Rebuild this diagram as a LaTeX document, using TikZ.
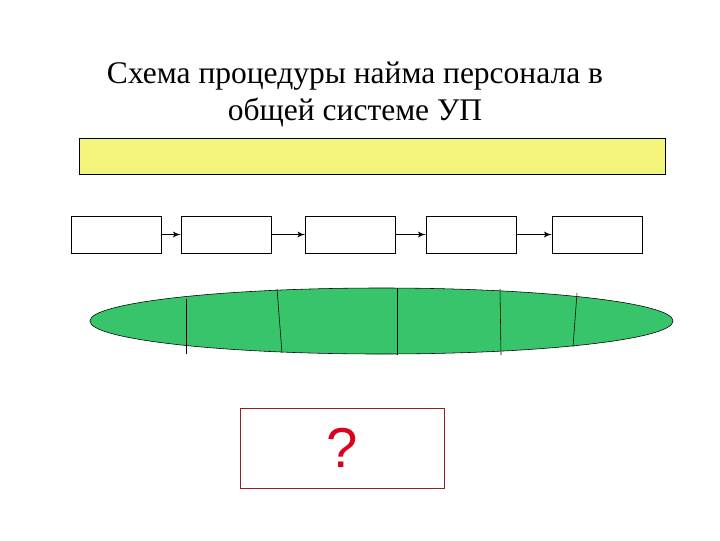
\documentclass[tikz,border=0pt]{standalone}
\usepackage{fontspec}
\setmainfont{Liberation Serif}
\newfontfamily\qfont{Liberation Sans}
\usetikzlibrary{shapes,arrows,positioning}
\definecolor{bandyellow}{RGB}{242,245,122}
\definecolor{ovalgreen}{RGB}{56,196,106}
\definecolor{qred}{RGB}{220,0,30}
\definecolor{qborder}{RGB}{150,30,30}
\tikzstyle{line2} = [draw, line width = 0.9pt, -latex']
\tikzstyle{band} = [rectangle, draw, fill = bandyellow, minimum width = 14.65cm, minimum height = 0.9cm, inner sep = 0pt]
\tikzstyle{stage} = [rectangle, draw, fill = white, minimum width = 2.25cm, minimum height = 0.925cm, inner sep = 0pt]
\tikzstyle{oval} = [ellipse, draw, fill = ovalgreen, minimum width = 14.575cm, minimum height = 1.65cm, inner sep = 0pt]
\tikzstyle{result} = [rectangle, draw = qborder, fill = white, minimum width = 5.1cm, minimum height = 2cm, inner sep = 0pt]
\begin{document}
\begin{tikzpicture}[x = 0.025cm, y = -0.025cm, node distance = 0.5cm, auto]
			\useasboundingbox (0, 0) rectangle (720, 540);
			% Place nodes
			\node [align = center, font = \fontsize{22.4}{26.3}\selectfont] (title) at (355, 94) {Схема процедуры найма персонала в\\общей системе УП};
			\node [band] (goal) at (372, 156) {};
			\node [stage] (s1) at (116, 234.5) {};
			\node [stage] (s2) at (226, 234.5) {};
			\node [stage] (s3) at (350.5, 234.5) {};
			\node [stage] (s4) at (471, 234.5) {};
			\node [stage] (s5) at (597, 234.5) {};
			\node [oval] (field) at (381.5, 321) {};
			\node [result] (answer) at (342, 448) {\qfont\fontsize{40}{40}\selectfont\color{qred}?};
			% Draw edges
			\path [line2] (s1) -- (s2);
			\path [line2] (s2) -- (s3);
			\path [line2] (s3) -- (s4);
			\path [line2] (s4) -- (s5);
			% Dividers
			\draw (186, 299) -- (186, 354);
			\draw (277, 289) -- (282, 353);
			\draw (397, 288) -- (397, 355);
			\draw (500, 289) -- (501, 355);
			\draw (577, 293) -- (573, 347);
\end{tikzpicture}
\end{document}
